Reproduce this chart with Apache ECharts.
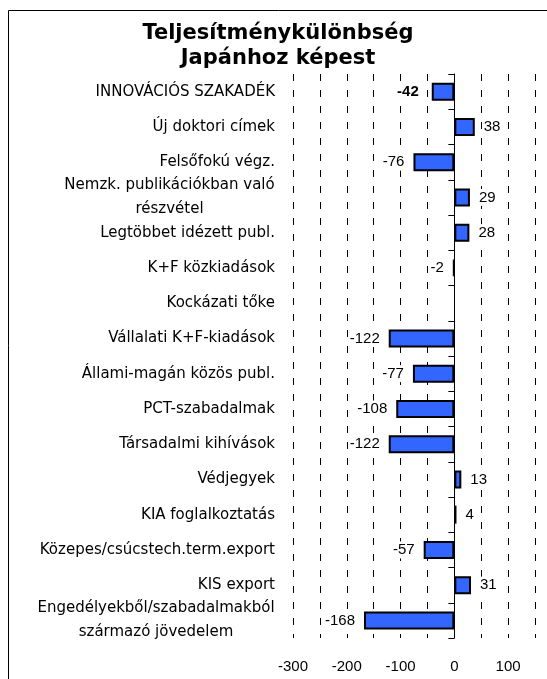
<!DOCTYPE html>
<html>
<head>
<meta charset="utf-8">
<script src="https://cdn.jsdelivr.net/npm/echarts@6/dist/echarts.min.js"></script>
<style>
  html, body { margin: 0; padding: 0; background: #fff; }
  #box { width: 547px; height: 679px; }
</style>
</head>
<body>
<div id="box"></div>
<script>
const aCategories = [
    'INNOVÁCIÓS SZAKADÉK',
    'Új doktori címek',
    'Felsőfokú végz.',
    'Nemzk. publikációkban való\nrészvétel',
    'Legtöbbet idézett publ.',
    'K+F közkiadások',
    'Kockázati tőke',
    'Vállalati K+F-kiadások',
    'Állami-magán közös publ.',
    'PCT-szabadalmak',
    'Társadalmi kihívások',
    'Védjegyek',
    'KIA foglalkoztatás',
    'Közepes/csúcstech.term.export',
    'KIS export',
    'Engedélyekből/szabadalmakból\nszármazó jövedelem',
];
// Kockázati tőke: nincs érték
const aValues = [-42, 38, -76, 29, 28, -2, null, -122, -77, -108, -122, 13, 4, -57, 31, -168];
const aTickLabels = [-300, -200, -100, 0, 100];

const sFont = '"Liberation Sans", Arial, sans-serif';
const sCatFont = '"DejaVu Sans", sans-serif';

// a többsoros feliratok sorai középre igazítva, mindegyik a saját szélességével
const oCtx = document.createElement('canvas').getContext('2d');
oCtx.font = '15px "DejaVu Sans"';
const oRich = {};
aCategories.forEach((cat, idx) => {
    if (!cat.includes('\n')) return;
    const iW = Math.ceil(Math.max(...cat.split('\n').map(s => oCtx.measureText(s).width)));
    oRich['m' + idx] = { width: iW, align: 'center', fontSize: 15, fontFamily: sCatFont, lineHeight: 24, color: '#000' };
});

const myChart = echarts.init(document.getElementById('box'));

const aData = aValues.map((val, idx) => {
    if (val == null) return null;
    return {
        value: val,
        label: {
            position: val < 0 ? 'left' : 'right',
            fontWeight: idx === 0 ? 'bold' : 'normal',
            distance: idx === 0 ? 12 : 8,
        },
    };
});

const option = {
    animation: false,
    title: {
        text: 'Teljesítménykülönbség\nJapánhoz képest',
        left: 273,
        top: 16,
        textAlign: 'center',
        textStyle: {
            fontFamily: '"DejaVu Sans", sans-serif',
            fontSize: 21,
            fontWeight: 'bold',
            lineHeight: 25,
            color: '#000',
        },
    },
    graphic: [{
        type: 'rect',
        shape: { x: 8.5, y: 10.5, width: 700, height: 800 },
        style: { fill: null, stroke: '#000', lineWidth: 1 },
        silent: true,
    }],
    grid: {
        left: 293,
        right: 547 - 535,
        top: 74,
        bottom: 679 - 638,
        containLabel: false,
    },
    xAxis: {
        type: 'value',
        min: -300,
        max: 150,
        interval: 50,
        axisLine: { show: false },
        axisTick: { show: false },
        axisLabel: {
            margin: 21,
            fontFamily: sFont,
            fontSize: 15,
            color: '#000',
            formatter: v => aTickLabels.includes(v) ? String(v) : '',
        },
        splitLine: {
            show: true,
            lineStyle: { color: '#000', width: 1, type: [7, 9] },
        },
    },
    yAxis: [{
        type: 'category',
        data: aCategories,
        inverse: true,
        axisLine: { show: false, onZero: false },
        axisTick: { show: false },
        axisLabel: {
            interval: 0,
            hideOverlap: false,
            margin: 18,
            fontFamily: sCatFont,
            fontSize: 15,
            color: '#000',
            lineHeight: 18,
            formatter: (s, idx) => {
                if (!s.includes('\n')) return s;
                return s.split('\n').map(line => `{m${idx}|${line}}`).join('\n');
            },
            rich: oRich,
        },
    }, {
        // nulla tengely a kis osztásokkal
        type: 'category',
        data: aCategories,
        inverse: true,
        position: 'left',
        axisLine: { show: true, onZero: true, lineStyle: { color: '#000', width: 1 } },
        axisTick: { show: true, length: 6, lineStyle: { color: '#000' } },
        axisLabel: { show: false },
        splitLine: { show: false },
    }],
    series: [{
        type: 'bar',
        data: aData,
        barWidth: 18,
        itemStyle: {
            color: '#3366ff',
            borderColor: '#000',
            borderWidth: 2,
        },
        label: {
            show: true,
            fontFamily: sFont,
            fontSize: 15,
            color: '#000',
            backgroundColor: '#fff',
            padding: [1, 1],
        },
        z: 3,
    }],
};
myChart.setOption(option);
</script>
</body>
</html>
